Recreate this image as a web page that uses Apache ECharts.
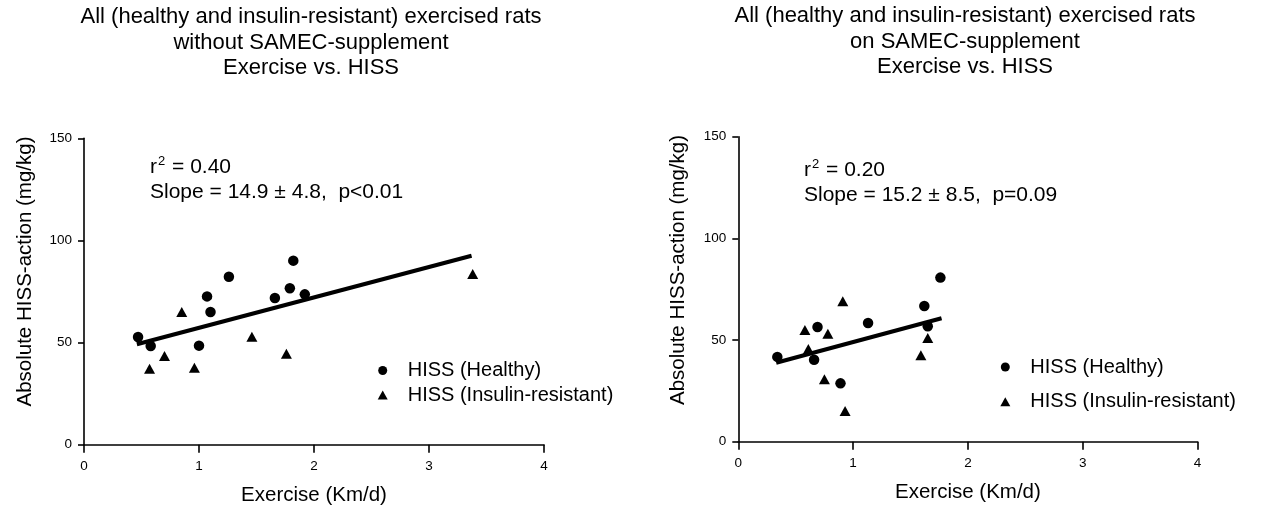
<!DOCTYPE html>
<html>
<head>
<meta charset="utf-8">
<script src="https://cdn.jsdelivr.net/npm/echarts@6/dist/echarts.min.js"></script>
<style>
  html, body { margin: 0; padding: 0; background: #fff; }
  #chart { width: 1265px; height: 508px; }
</style>
</head>
<body>
<div id="chart"></div>
<script>
// Exercise (Km/d) vs absolute HISS-action (mg/kg), two groups of rats
const xTicks = [0, 1, 2, 3, 4];
const yTicks = [0, 50, 100, 150];

// Without SAMEC supplement
const noSupHealthyX = [0.47, 0.58, 1.07, 1.10, 1.00, 1.26, 1.66, 1.79, 1.82, 1.92];
const noSupHealthyY = [52.7, 48.3, 72.6, 65.0, 48.5, 82.2, 71.8, 76.6, 90.1, 73.6];
const noSupResistX = [0.85, 0.57, 0.70, 0.96, 1.46, 1.76, 3.38];
const noSupResistY = [65.0, 37.2, 43.4, 37.7, 52.9, 44.5, 83.6];
const noSupFit = { slope: 14.9, intercept: 42.3, xFrom: 0.46, xTo: 3.37 };

// On SAMEC supplement
const supHealthyX = [0.34, 0.69, 0.66, 0.89, 1.13, 1.62, 1.65, 1.76];
const supHealthyY = [41.7, 56.4, 40.3, 28.7, 58.4, 66.7, 56.8, 80.7];
const supResistX = [0.58, 0.61, 0.78, 0.91, 0.75, 0.93, 1.59, 1.65];
const supResistY = [54.9, 45.6, 53.1, 69.1, 30.7, 15.1, 42.5, 51.0];
const supFit = { slope: 15.2, intercept: 33.8, xFrom: 0.33, xTo: 1.77 };

const seriesNames = ['HISS (Healthy)', 'HISS (Insulin-resistant)'];
const panelTitles = [
  'All (healthy and insulin-resistant) exercised rats\nwithout SAMEC-supplement\nExercise vs. HISS',
  'All (healthy and insulin-resistant) exercised rats\non SAMEC-supplement\nExercise vs. HISS'
];
const fitStats = [
  { r2: '0.40', slope: '14.9 ± 4.8', p: 'p<0.01' },
  { r2: '0.20', slope: '15.2 ± 8.5', p: 'p=0.09' }
];
const xName = 'Exercise (Km/d)';
const yName = 'Absolute HISS-action (mg/kg)';

const FONT = '"Liberation Sans", Arial, Helvetica, sans-serif';

function pairs(xs, ys) { return xs.map((x, i) => [x, ys[i]]); }
function fitLine(f) {
  return [[f.xFrom, f.intercept + f.slope * f.xFrom], [f.xTo, f.intercept + f.slope * f.xTo]];
}

function xAxisFor(gridIndex) {
  return {
    gridIndex, type: 'value', min: xTicks[0], max: xTicks[xTicks.length - 1], interval: 1,
    name: xName, nameLocation: 'middle', nameGap: 40,
    nameTextStyle: { color: '#000', fontSize: 20.5, fontFamily: FONT },
    axisLine: { onZero: false, lineStyle: { color: '#000', width: 1.6 } },
    axisTick: { show: true, length: 8, lineStyle: { color: '#000', width: 1.6 } },
    axisLabel: { color: '#000', fontSize: 13.5, fontFamily: FONT, margin: 15 },
    splitLine: { show: false }
  };
}
function yAxisFor(gridIndex) {
  return {
    gridIndex, type: 'value', min: yTicks[0], max: yTicks[yTicks.length - 1], interval: 50,
    axisLine: { onZero: false, lineStyle: { color: '#000', width: 1.6 } },
    axisTick: { show: true, length: 6, lineStyle: { color: '#000', width: 1.6 } },
    axisLabel: { color: '#000', fontSize: 13.5, fontFamily: FONT, margin: 12 },
    splitLine: { show: false }
  };
}
function scatter(name, symbol, data, idx) {
  return {
    type: 'scatter', name, symbol, symbolSize: symbol === 'circle' ? 10.5 : [11, 10],
    xAxisIndex: idx, yAxisIndex: idx, data,
    itemStyle: { color: '#000', opacity: 1 }, z: 3
  };
}
function fit(data, idx) {
  return {
    type: 'line', data, xAxisIndex: idx, yAxisIndex: idx, symbol: 'none',
    lineStyle: { color: '#000', width: 4 }, silent: true, z: 2
  };
}

const titleStyle = { color: '#000', fontSize: 22, fontWeight: 'normal', fontFamily: FONT, lineHeight: 25.5 };

function statsText(s, x, y) {
  return {
    type: 'text', x, y, silent: true,
    style: {
      text: '{t|r}{s|2}{t| = ' + s.r2 + '}\n{t|Slope = ' + s.slope + ',  ' + s.p + '}',
      verticalAlign: 'top',
      rich: {
        t: { fontSize: 21, fontFamily: FONT, fill: '#000', lineHeight: 25 },
        s: { fontSize: 13, fontFamily: FONT, fill: '#000', lineHeight: 25, verticalAlign: 'top', padding: [0, 1, 10, 1] }
      }
    }
  };
}
function yTitle(x, y) {
  return {
    type: 'text', x, y, rotation: Math.PI / 2, silent: true,
    style: { text: yName, fontSize: 20.5, fontFamily: FONT, fill: '#000', align: 'center', verticalAlign: 'middle' }
  };
}
function legendFor(left, top, gap) {
  return {
    data: [{ name: seriesNames[0], icon: 'circle' }, { name: seriesNames[1], icon: 'triangle' }],
    orient: 'vertical', left, top, padding: 0, itemWidth: 10, itemHeight: 9, itemGap: gap,
    textStyle: { color: '#000', fontSize: 20, fontFamily: FONT, lineHeight: 20, padding: [0, 0, 0, 15] },
    selectedMode: false
  };
}

const option = {
  animation: false,
  backgroundColor: '#fff',
  title: [
    { text: panelTitles[0], left: 311, top: 4.5, textAlign: 'center', padding: 0, textStyle: titleStyle },
    { text: panelTitles[1], left: 965, top: 3.5, textAlign: 'center', padding: 0, textStyle: titleStyle }
  ],
  legend: [legendFor(377.7, 360.5, 4.5), legendFor(1000.3, 357, 14.7)],
  grid: [
    { left: 84, top: 138.3, width: 460, height: 306.4, outerBoundsMode: 'none' },
    { left: 738.3, top: 136.7, width: 459.3, height: 305, outerBoundsMode: 'none' }
  ],
  xAxis: [xAxisFor(0), xAxisFor(1)],
  yAxis: [yAxisFor(0), yAxisFor(1)],
  graphic: [
    statsText(fitStats[0], 150, 154.5),
    statsText(fitStats[1], 804, 157.5),
    yTitle(25, 271.5),
    yTitle(678, 270)
  ],
  series: [
    scatter(seriesNames[0], 'circle', pairs(noSupHealthyX, noSupHealthyY), 0),
    scatter(seriesNames[1], 'triangle', pairs(noSupResistX, noSupResistY), 0),
    fit(fitLine(noSupFit), 0),
    scatter(seriesNames[0], 'circle', pairs(supHealthyX, supHealthyY), 1),
    scatter(seriesNames[1], 'triangle', pairs(supResistX, supResistY), 1),
    fit(fitLine(supFit), 1)
  ]
};

const chart = echarts.init(document.getElementById('chart'), null, { renderer: 'canvas' });
chart.setOption(option);
</script>
</body>
</html>
